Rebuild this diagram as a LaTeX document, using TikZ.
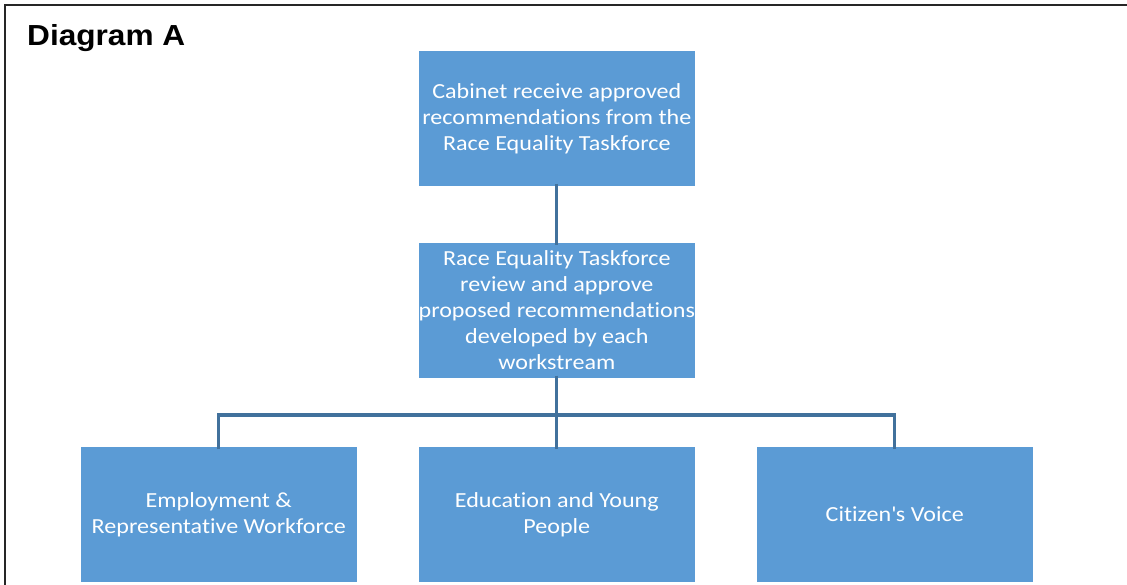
\documentclass[tikz,border=0pt]{standalone}
\usepackage{fontspec}
\setmainfont{Carlito}[FakeStretch=1.12, Ligatures=NoCommon]
\newfontfamily\arialb{Liberation Sans}[FakeStretch=1.09]
\begin{document}
\begin{tikzpicture}[x=1pt,y=-1pt,
  box/.style={draw=white, line width=0.6pt, fill=boxblue, text=white, minimum width=277pt, minimum height=136pt,
    inner sep=0pt, align=center, font=\fontsize{21.5}{26}\selectfont, anchor=north west},
  conn/.style={draw=lineblue, line width=3.2pt}]
\definecolor{boxblue}{HTML}{5B9BD5}
\definecolor{lineblue}{HTML}{41719C}
\useasboundingbox (0,0) rectangle (1127,585);
\draw[line width=2pt, black!85] (5,585) -- (5,5) -- (1127,5);
\node[anchor=base west, inner sep=0pt, font=\arialb\bfseries\fontsize{29}{33}\selectfont] (title) at (27,46) {Diagram A};
\node[box] (cab) at (418,50) {Cabinet receive approved\\recommendations from the\\Race Equality Taskforce};
\node[box] (ret) at (418,242) {Race Equality Taskforce\\review and approve\\proposed recommendations\\developed by each\\workstream};
\node[box] (emp) at (80,446) {Employment \&\\Representative Workforce};
\node[box] (edu) at (418,446) {Education and Young\\People};
\node[box] (cit) at (756,446) {Citizen\textquotesingle s Voice};
\coordinate (bus) at (556,415);
\draw[conn] ([yshift=3pt]cab.south) -- ([yshift=-3pt]ret.north);
\draw[conn] ([yshift=3pt]ret.south) -- ([yshift=-3pt]edu.north);
\draw[conn] ([yshift=-3pt]emp.north) |- (bus) -| ([yshift=-3pt]cit.north);
\end{tikzpicture}
\end{document}
